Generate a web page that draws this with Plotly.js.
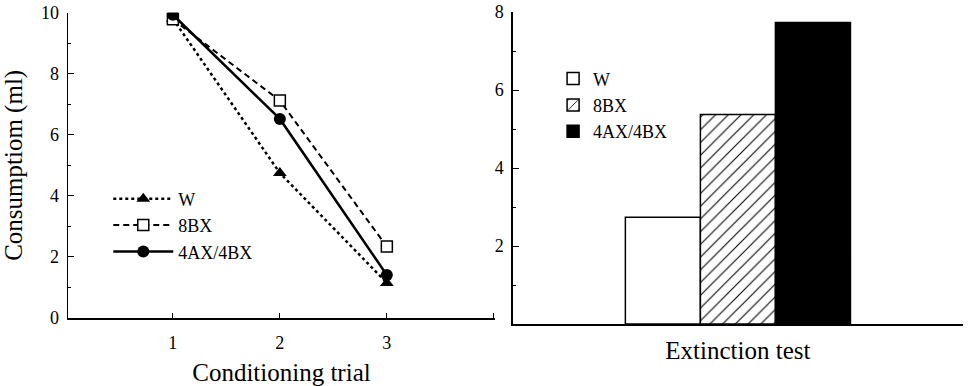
<!DOCTYPE html>
<html><head><meta charset="utf-8">
<script src="https://cdn.plot.ly/plotly-3.0.1.min.js"></script>
<style>html,body{margin:0;padding:0;background:#fff}#chart{width:968px;height:386px}</style>
</head><body><div id="chart"></div>
<script>
// ---- data ----
const trials = [1, 2, 3];
const seriesNames = ['W', '8BX', '4AX/4BX'];
const wValues = [9.80, 4.75, 1.15];
const bx8Values = [9.78, 7.12, 2.34];
const ax4bx4Values = [9.93, 6.52, 1.41];
const extinctionGroups = ['W', '8BX', '4AX/4BX'];
const extinctionValues = [2.74, 5.37, 7.73];
const leftYTicks = [0, 2, 4, 6, 8, 10];
const leftXTicks = [1, 2, 3];
const rightYTicks = [2, 4, 6, 8];

const FONT = 'Liberation Serif';

const lineTraces = [
  {x: trials, y: wValues, name: seriesNames[0], mode: 'lines+markers', xaxis: 'x', yaxis: 'y', legend: 'legend',
   line: {color: 'black', width: 2.5, dash: 'dot'},
   marker: {symbol: 'triangle-up', size: 12, color: 'black'}},
  {x: trials, y: bx8Values, name: seriesNames[1], mode: 'lines+markers', xaxis: 'x', yaxis: 'y', legend: 'legend',
   line: {color: 'black', width: 2, dash: '6px,4px'},
   marker: {symbol: 'square', size: 11, color: 'white', line: {color: 'black', width: 1.5}}},
  {x: trials, y: ax4bx4Values, name: seriesNames[2], mode: 'lines+markers', xaxis: 'x', yaxis: 'y', legend: 'legend',
   line: {color: 'black', width: 2.5, dash: 'solid'},
   marker: {symbol: 'circle', size: 12, color: 'black'}}
];

const barStyles = [
  {color: 'white', line: {color: 'black', width: 1.5}},
  {color: 'white', line: {color: 'black', width: 1.5},
   pattern: {shape: '/', fgcolor: 'black', bgcolor: 'white', size: 9, solidity: 0.12, fillmode: 'replace'}},
  {color: 'black', line: {color: 'black', width: 1.5}}
];
const barTraces = extinctionGroups.map((g, i) => ({
  type: 'bar', x: [0], y: [extinctionValues[i]], name: g, xaxis: 'x2', yaxis: 'y2', legend: 'legend2',
  marker: barStyles[i]
}));

function axisBase() {
  return {showline: true, linecolor: 'black', linewidth: 1.5, showgrid: false, zeroline: false,
    tickcolor: 'black', tickfont: {family: FONT, size: 18, color: 'black'}};
}
function titleFont() { return {family: FONT, size: 25, color: 'black'}; }

const layout = {
  width: 968, height: 386,
  margin: {l: 68, r: 5, t: 12, b: 62},
  paper_bgcolor: 'white', plot_bgcolor: 'white',
  font: {family: FONT, color: 'black', size: 18},
  barmode: 'group', bargap: 0, bargroupgap: 0,
  xaxis: Object.assign(axisBase(), {
    domain: [0, 0.477], range: [0.02, 4.01], anchor: 'y',
    tickmode: 'array', tickvals: leftXTicks.concat([4]), ticktext: leftXTicks.map(String).concat(['']),
    ticks: 'inside', ticklen: 5, ticklabelstandoff: 8,
    title: {text: 'Conditioning trial', font: titleFont(), standoff: 11}
  }),
  yaxis: Object.assign(axisBase(), {
    domain: [0.019, 0.998], range: [0, 10], anchor: 'x',
    tickmode: 'array', tickvals: leftYTicks, ticks: 'inside', ticklen: 6, ticklabelstandoff: 4,
    minor: {tickvals: [1, 3, 5, 7, 9], ticks: 'inside', ticklen: 3, tickcolor: 'black'},
    title: {text: 'Consumptiom (ml)', font: titleFont(), standoff: 11}
  }),
  xaxis2: Object.assign(axisBase(), {
    domain: [0.497, 1], range: [-1, 1], anchor: 'y2',
    showticklabels: false, ticks: '',
    title: {text: 'Extinction test', font: titleFont(), standoff: 17}
  }),
  yaxis2: Object.assign(axisBase(), {
    domain: [0, 1], range: [0, 8], anchor: 'x2',
    tickmode: 'array', tickvals: rightYTicks, ticks: 'inside', ticklen: 6, ticklabelstandoff: 4,
    minor: {tickvals: [1, 3, 5, 7], ticks: 'inside', ticklen: 3, tickcolor: 'black'}
  }),
  legend: {x: 0.045, y: 0.46, xanchor: 'left', yanchor: 'top', bgcolor: 'rgba(0,0,0,0)',
    font: {family: FONT, size: 18, color: 'black'}, traceorder: 'normal', itemwidth: 60},
  legend2: {x: 0.542, y: 0.845, xanchor: 'left', yanchor: 'top', bgcolor: 'rgba(0,0,0,0)',
    font: {family: FONT, size: 18, color: 'black'}, traceorder: 'normal'},
  showlegend: true
};

Plotly.newPlot('chart', lineTraces.concat(barTraces), layout, {staticPlot: true, displayModeBar: false});
</script>
</body></html>
